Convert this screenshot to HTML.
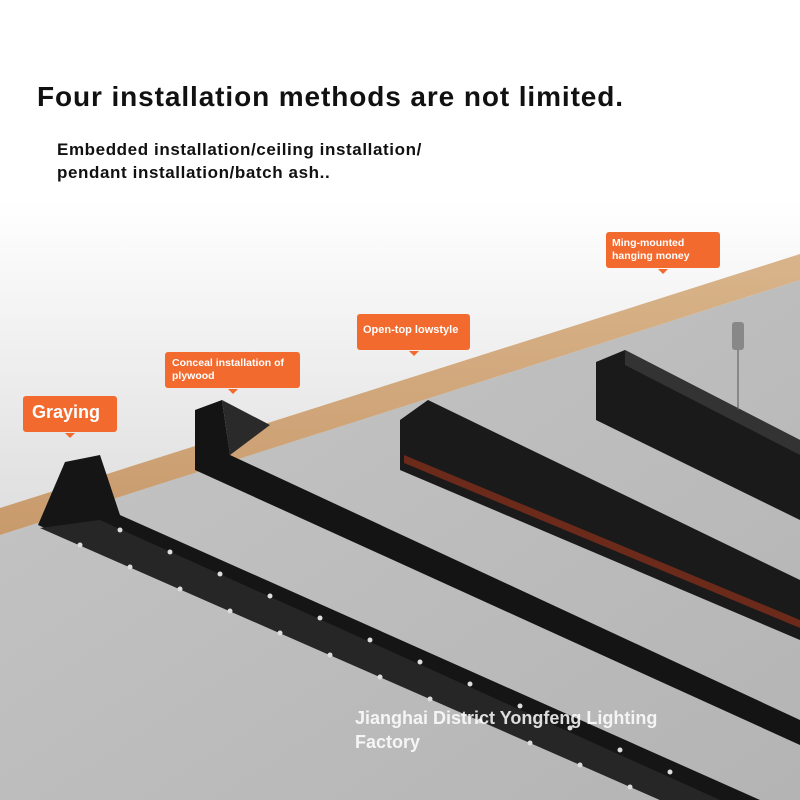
<!DOCTYPE html>
<html><head><meta charset="utf-8"><style>
body{margin:0;width:800px;height:800px;overflow:hidden;font-family:"Liberation Sans",sans-serif}
.t{position:absolute;font-weight:bold;color:#111}
.lab{position:absolute;background:#f26a2e;color:#fff;font-weight:bold;border-radius:3px;box-sizing:border-box}
.lab:after{content:"";position:absolute;left:50%;bottom:-6px;margin-left:-5px;border:5px solid transparent;border-top-color:#f26a2e;border-bottom:0}
</style></head><body>
<svg width="800" height="800" style="position:absolute;left:0;top:0">
<defs>
<linearGradient id="bg" x1="0" y1="0" x2="0" y2="1">
<stop offset="0" stop-color="#fff"/><stop offset="0.25" stop-color="#fff"/><stop offset="0.6" stop-color="#e2e2e2"/><stop offset="1" stop-color="#cfcfcf"/></linearGradient>
<linearGradient id="ceil" x1="0" y1="0" x2="1" y2="1">
<stop offset="0" stop-color="#c6c6c6"/><stop offset="1" stop-color="#b4b4b4"/></linearGradient>
<linearGradient id="wood" x1="0" y1="0" x2="0" y2="1"><stop offset="0" stop-color="#d9b48a"/><stop offset="1" stop-color="#c89a6c"/></linearGradient>
</defs>
<rect width="800" height="800" fill="url(#bg)"/>
<polygon points="0,535 800,280 800,800 0,800" fill="url(#ceil)"/>
<polygon points="0,508 800,254 800,280 0,535" fill="url(#wood)"/>
<polygon points="596,362 625,350 800,440 800,520 596,420" fill="#1a1a1a"/>
<polygon points="625,350 800,440 800,455 625,365" fill="#333"/>
<line x1="738" y1="350" x2="738" y2="410" stroke="#555" stroke-width="1"/>
<rect x="732" y="322" width="12" height="28" rx="3" fill="#888"/>
<polygon points="400,420 428,400 800,580 800,640 400,470" fill="#1a1a1a"/>
<polygon points="404,455 800,620 800,628 404,463" fill="#6b2a1a"/>
<polygon points="195,410 222,400 230,455 800,720 800,745 195,470" fill="#141414"/>
<polygon points="222,400 270,425 230,455" fill="#2a2a2a"/>
<polygon points="38,525 65,462 100,455 120,515 760,800 660,800" fill="#151515"/>
<polygon points="40,528 660,800 720,800 100,520" fill="#262626"/>
<g fill="#ddd">
<circle cx="120" cy="530" r="2.5"/><circle cx="170" cy="552" r="2.5"/><circle cx="220" cy="574" r="2.5"/><circle cx="270" cy="596" r="2.5"/><circle cx="320" cy="618" r="2.5"/><circle cx="370" cy="640" r="2.5"/><circle cx="420" cy="662" r="2.5"/><circle cx="470" cy="684" r="2.5"/><circle cx="520" cy="706" r="2.5"/><circle cx="570" cy="728" r="2.5"/><circle cx="620" cy="750" r="2.5"/><circle cx="670" cy="772" r="2.5"/>
<circle cx="80" cy="545" r="2.5"/><circle cx="130" cy="567" r="2.5"/><circle cx="180" cy="589" r="2.5"/><circle cx="230" cy="611" r="2.5"/><circle cx="280" cy="633" r="2.5"/><circle cx="330" cy="655" r="2.5"/><circle cx="380" cy="677" r="2.5"/><circle cx="430" cy="699" r="2.5"/><circle cx="480" cy="721" r="2.5"/><circle cx="530" cy="743" r="2.5"/><circle cx="580" cy="765" r="2.5"/><circle cx="630" cy="787" r="2.5"/>
</g>
</svg>
<div class="t" style="left:37px;top:81px;font-size:28px;letter-spacing:0.9px">Four installation methods are not limited.</div>
<div class="t" style="left:57px;top:138px;font-size:17px;line-height:23px;letter-spacing:0.6px">Embedded installation/ceiling installation/<br>pendant installation/batch ash..</div>
<div class="lab" style="left:23px;top:396px;width:94px;height:36px;font-size:18px;padding:6px 9px">Graying</div>
<div class="lab" style="left:165px;top:352px;width:135px;height:36px;font-size:10.5px;line-height:13px;padding:5px 7px">Conceal installation of plywood</div>
<div class="lab" style="left:357px;top:314px;width:113px;height:36px;font-size:11px;padding:10px 6px">Open-top lowstyle</div>
<div class="lab" style="left:606px;top:232px;width:114px;height:36px;font-size:10.5px;line-height:13px;padding:5px 6px">Ming-mounted hanging money</div>
<div style="position:absolute;left:355px;top:706px;font-size:18px;font-weight:bold;color:rgba(255,255,255,0.85);line-height:24px">Jianghai District Yongfeng Lighting<br>Factory</div>
</body></html>
